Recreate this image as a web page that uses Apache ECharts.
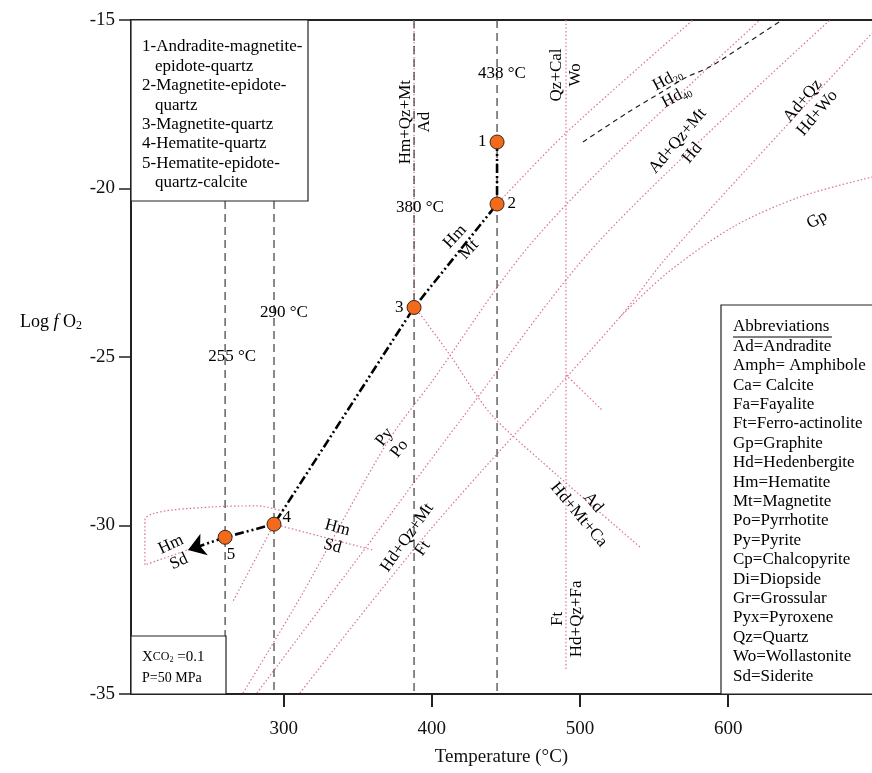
<!DOCTYPE html>
<html>
<head>
<meta charset="utf-8">
<script src="https://cdn.jsdelivr.net/npm/echarts@6/dist/echarts.min.js"></script>
<style>
  html, body { margin: 0; padding: 0; background: #fff; }
  #chart { width: 872px; height: 773px; }
</style>
</head>
<body>
<div id="chart"></div>
<script>
// --- data (temperature in °C, log fO2) ---
const sampleNames = ['1', '2', '3', '4', '5'];
const sampleTemps = [444, 444, 388, 293.5, 260.5];
const sampleLogfO2 = [-18.62, -20.46, -23.53, -29.96, -30.35];
const arrowTip = [235.5, -30.73];

// isotherms (dashed verticals)
const isoTemps = [260.5, 293.5, 388, 444];
const isoTop = [-20.37, -20.37, -15, -15];
const isoBottom = [-35, -35, -35, -35];

const xTicks = [300, 400, 500, 600];

// phase boundaries
const pyPo = [[272.6, -34.97], [311.0, -32.15], [369.7, -27.55], [400.8, -25.68], [459.5, -22.03], [513.5, -19.45], [621.4, -15]];
const adQzMtHd = [[282.0, -34.97], [354.2, -30.73], [421.0, -26.78], [513.5, -21.53], [668.7, -15]];
const hdQzMtFt = [[311.0, -34.97], [398.8, -30.13], [527.0, -23.81], [558.7, -22.03], [697, -15.39]];
const graphite = [[527.0, -23.81], [558.7, -22.51], [603.2, -21.14], [648.4, -20.25], [697, -19.66]];
const hmMtUpper = [[444, -20.46], [490.5, -18.35], [576.2, -15]];
const adHdMtCa = [[388.6, -23.52], [412.2, -24.94], [439.2, -26.66], [473.0, -28.06], [540.5, -30.64]];
const woLine = [[490.5, -15], [490.5, -34.3]];
const woBranch = [[490.5, -25.53], [514.8, -26.57]];
const adVertical = [[388, -15], [388, -23.5]];
const hmSdLeft = [[236.8, -30.70], [206.4, -31.17], [206.4, -29.84], [251.7, -29.45], [282.7, -29.42], [300.9, -29.6]];
const hmSdRight = [[293.5, -29.96], [360.3, -30.73]];
const shortLine = [[293.5, -29.96], [265.2, -32.30]];
const hdCurve = [[502.0, -18.62], [531.7, -17.76], [553.9, -17.17], [572.2, -16.69], [587.7, -16.39], [612.7, -15.68], [636.3, -15]];

// field labels: text, T, logfO2, rotation
const notes = [
  ['Hm+Qz+Mt\nAd', 388.6, -18.03, 90],
  ['380 °C', 392, -20.55, 0],
  ['438 °C', 447.3, -16.6, 0],
  ['290 °C', 300.2, -23.69, 0],
  ['255 °C', 265.2, -25.0, 0],
  ['Qz+Cal\nWo', 490.5, -16.63, 90],
  ['Hm\nMt', 420.3, -21.62, 47],
  ['{t|Hd}{s|20}\n{t|Hd}{s|40}', 562.0, -17.02, 28],
  ['Ad+Qz+Mt\nHd', 570.8, -18.77, 50],
  ['Ad+Qz\nHd+Wo', 655.2, -17.58, 50],
  ['Gp', 659.9, -20.93, 28],
  ['Py\nPo', 373.1, -27.55, 52],
  ['Hm\nSd', 334.6, -30.34, -15],
  ['Hd+Qz+Mt\nFt', 388.6, -30.52, 55],
  ['Ad\nHd+Mt+Ca', 504, -29.5, -50],
  ['Ft\nHd+Qz+Fa', 491.2, -32.77, 90],
  ['Hm\nSd', 226.7, -30.82, 25]
];

const legendLines = [
  ['1-Andradite-magnetite-', 0], ['epidote-quartz', 1],
  ['2-Magnetite-epidote-', 0], ['quartz', 1],
  ['3-Magnetite-quartz', 0], ['4-Hematite-quartz', 0],
  ['5-Hematite-epidote-', 0], ['quartz-calcite', 1]
];
const abbrevs = ['Ad=Andradite', 'Amph= Amphibole', 'Ca= Calcite', 'Fa=Fayalite', 'Ft=Ferro-actinolite',
  'Gp=Graphite', 'Hd=Hedenbergite', 'Hm=Hematite', 'Mt=Magnetite', 'Po=Pyrrhotite', 'Py=Pyrite',
  'Cp=Chalcopyrite', 'Di=Diopside', 'Gr=Grossular', 'Pyx=Pyroxene', 'Qz=Quartz', 'Wo=Wollastonite', 'Sd=Siderite'];

const FONT = 'Liberation Serif, Times New Roman, serif';
const PINK = '#d9719e';
// where each sample number sits relative to its dot
const labelPos = ['left', 'right', 'left', 'right', 'bottom'];
const labelOffset = [[0, 0], [0, 0], [0, 0], [-2, -7], [6, -2]];

const chart = echarts.init(document.getElementById('chart'), null, { renderer: 'canvas' });

const pinkSets = [pyPo, adQzMtHd, hdQzMtFt, graphite, hmMtUpper, adHdMtCa, woLine, woBranch,
  adVertical, hmSdLeft, hmSdRight, shortLine];

const series = [];
pinkSets.forEach(pts => {
  series.push({
    type: 'line', data: pts, symbol: 'none', smooth: 0.3, silent: true, z: 1,
    lineStyle: { color: PINK, width: 1.2, type: [1.5, 2.2] }
  });
});
series.push({
  type: 'line', data: hdCurve, symbol: 'none', smooth: 0.3, silent: true, z: 2,
  lineStyle: { color: '#222', width: 1.2, type: [5, 4] }
});
isoTemps.forEach((t, i) => {
  series.push({
    type: 'line', data: [[t, isoTop[i]], [t, isoBottom[i]]], symbol: 'none', silent: true, z: 2,
    lineStyle: { color: '#4a4a4a', width: 1.3, type: [8, 5] }
  });
});
// evolution path
series.push({
  type: 'line', z: 5, symbol: 'none', silent: true,
  data: sampleTemps.map((t, i) => [t, sampleLogfO2[i]]),
  lineStyle: { color: '#000', width: 2.6, type: [9, 3, 2, 3, 2, 3] },
  markLine: {
    silent: true, symbol: ['none', 'arrow'], symbolSize: 17,
    lineStyle: { color: '#000', width: 2.6, type: [9, 3, 2, 3, 2, 3] },
    label: { show: false },
    data: [[{ coord: [sampleTemps[4], sampleLogfO2[4]] }, { coord: arrowTip }]]
  }
});
series.push({
  type: 'scatter', z: 6, symbolSize: 14, silent: true,
  itemStyle: { color: '#f26a1b', borderColor: '#3b2415', borderWidth: 1, opacity: 1 },
  data: sampleTemps.map((t, i) => ({
    value: [t, sampleLogfO2[i]],
    label: { show: true, formatter: sampleNames[i], position: labelPos[i], distance: 3, offset: labelOffset[i] }
  })),
  label: { color: '#000', fontFamily: FONT, fontSize: 17 }
});
series.push({
  type: 'scatter', z: 7, symbolSize: 0, silent: true,
  itemStyle: { opacity: 1 },
  data: notes.map(n => ({
    value: [n[1], n[2]],
    label: { show: true, rotate: n[3], formatter: n[0] }
  })),
  label: {
    position: [0, 0], align: 'center', verticalAlign: 'middle',
    color: '#000', fontFamily: FONT, fontSize: 17, lineHeight: 19,
    rich: {
      t: { fontFamily: FONT, fontSize: 17, color: '#000' },
      s: { fontFamily: FONT, fontSize: 10, color: '#000', verticalAlign: 'bottom', padding: [8, 0, 0, 0] }
    }
  }
});

const graphic = [];
graphic.push({ type: 'rect', z: 20, shape: { x: 131, y: 20, width: 177, height: 181 },
  style: { fill: '#fff', stroke: '#222', lineWidth: 1.2 } });
legendLines.forEach((l, i) => {
  graphic.push({ type: 'text', z: 21, x: 142 + l[1] * 13, y: 47 + i * 19.4,
    style: { text: l[0], font: '17px ' + FONT, fill: '#000', verticalAlign: 'middle' } });
});
graphic.push({ type: 'rect', z: 20, shape: { x: 721, y: 305, width: 160, height: 389 },
  style: { fill: '#fff', stroke: '#222', lineWidth: 1.2 } });
graphic.push({ type: 'text', z: 21, x: 733, y: 327,
  style: { text: 'Abbreviations', font: '17px ' + FONT, fill: '#000', verticalAlign: 'middle' } });
graphic.push({ type: 'line', z: 21, shape: { x1: 733, y1: 337, x2: 832, y2: 337 },
  style: { stroke: '#000', lineWidth: 1 } });
abbrevs.forEach((a, i) => {
  graphic.push({ type: 'text', z: 21, x: 733, y: 346.4 + i * 19.4,
    style: { text: a, font: '17px ' + FONT, fill: '#000', verticalAlign: 'middle' } });
});
graphic.push({ type: 'rect', z: 20, shape: { x: 131, y: 636, width: 95, height: 58 },
  style: { fill: '#fff', stroke: '#222', lineWidth: 1.2 } });
graphic.push({ type: 'text', z: 21, x: 142, y: 657,
  style: { text: '{a|X}{b|CO}{c|2}{a| =0.1}', fill: '#000', verticalAlign: 'middle',
    rich: { a: { font: '15px ' + FONT }, b: { font: '12px ' + FONT }, c: { font: '8px ' + FONT, padding: [6, 0, 0, 0] } } } });
graphic.push({ type: 'text', z: 21, x: 142, y: 678,
  style: { text: 'P=50 MPa', font: '14px ' + FONT, fill: '#000', verticalAlign: 'middle' } });
graphic.push({ type: 'text', z: 21, x: 20, y: 322,
  style: { text: '{a|Log }{i|f}{a| O}{s|2}', fill: '#000', verticalAlign: 'middle',
    rich: { a: { font: '18px ' + FONT }, i: { font: 'italic 18px ' + FONT }, s: { font: '12px ' + FONT, padding: [7, 0, 0, 0] } } } });

chart.setOption({
  animation: false,
  backgroundColor: '#fff',
  grid: { left: 131, right: 0, top: 20, bottom: 79 },
  xAxis: [{
    type: 'value', min: 197, max: 697,
    name: 'Temperature (°C)', nameLocation: 'middle', nameGap: 54,
    nameTextStyle: { fontFamily: FONT, fontSize: 19, color: '#111' },
    axisLine: { lineStyle: { color: '#222', width: 2 } },
    axisTick: { show: true, length: 13, customValues: xTicks, lineStyle: { color: '#222', width: 2 } },
    axisLabel: { customValues: xTicks, margin: 26, fontFamily: FONT, fontSize: 19, color: '#111' },
    splitLine: { show: false }
  }, {
    type: 'value', position: 'top', min: 197, max: 697,
    axisLine: { show: true, lineStyle: { color: '#222', width: 2 } },
    axisTick: { show: false }, axisLabel: { show: false }, splitLine: { show: false }
  }],
  yAxis: {
    type: 'value', min: -35, max: -15, interval: 5,
    axisLine: { show: true, lineStyle: { color: '#222', width: 2 } },
    axisTick: { show: true, length: 12, lineStyle: { color: '#222', width: 1.5 } },
    axisLabel: { margin: 16, fontFamily: FONT, fontSize: 19, color: '#111' },
    splitLine: { show: false }
  },
  series: series,
  graphic: graphic
});
</script>
</body>
</html>
